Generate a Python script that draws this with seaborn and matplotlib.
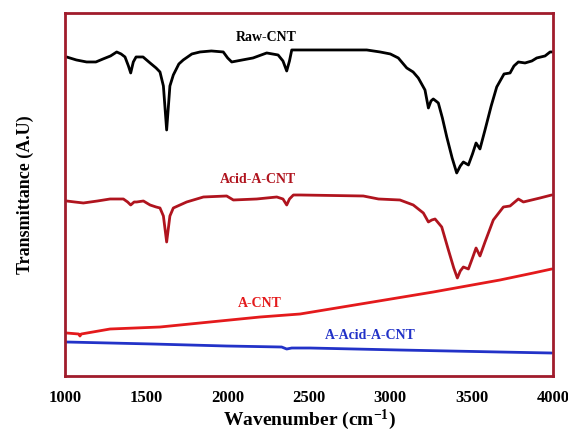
import numpy as np
import pandas as pd
import matplotlib.pyplot as plt
import seaborn as sns

# ==========================================================
# Data (wavenumber, relative transmittance)
# ==========================================================
raw_wn = [1010, 1070, 1133, 1190, 1234, 1280, 1318, 1345, 1369, 1390, 1404, 1420,
          1437, 1480, 1523, 1560, 1584, 1605, 1625, 1645, 1666, 1700, 1727, 1780,
          1830, 1900, 1973, 2000, 2025, 2090, 2156, 2240, 2310, 2340, 2363, 2380,
          2394, 2445, 2700, 2855, 2937, 3000, 3049, 3101, 3140, 3172, 3213, 3234,
          3250, 3264, 3280, 3295, 3320, 3347, 3380, 3408, 3430, 3449, 3480, 3505,
          3527, 3551, 3582, 3620, 3654, 3699, 3736, 3760, 3787, 3828, 3870, 3900,
          3951, 3982, 3994]
raw_t = [319, 316, 314, 314, 317, 320, 324, 322, 319, 310, 303, 314,
         319, 319, 313, 308, 304, 290, 246, 290, 301, 312, 316, 322,
         324, 325, 324, 318, 314, 316, 318, 323, 321, 315, 305, 315,
         326, 326, 326, 326, 324, 322, 318, 308, 304, 298, 286, 268,
         275, 277, 275, 273, 258, 239, 218, 203, 210, 214, 211, 222,
         233, 227, 246, 270, 289, 302, 303, 310, 314, 313, 315, 318,
         320, 324, 324]

acid_wn = [1010, 1060, 1113, 1200, 1277, 1359, 1385, 1404, 1425, 1441, 1482, 1523,
           1560, 1584, 1605, 1625, 1645, 1666, 1748, 1851, 1994, 2035, 2179, 2302,
           2340, 2363, 2380, 2404, 2445, 2834, 2927, 3059, 3141, 3203, 3234, 3255,
           3275, 3316, 3357, 3390, 3412, 3430, 3449, 3480, 3505, 3527, 3551, 3582,
           3633, 3695, 3736, 3787, 3818, 3920, 3992]
acid_t = [175, 174, 173, 175, 177, 177, 174, 171, 174, 174, 175, 171,
          169, 168, 160, 134, 160, 168, 174, 179, 180, 176, 177, 179,
          177, 171, 177, 181, 181, 180, 177, 176, 171, 163, 154, 156,
          157, 149, 126, 108, 98, 105, 109, 107, 118, 128, 120, 134,
          156, 169, 170, 177, 174, 178, 181]

acnt_wn = [1010, 1084, 1092, 1100, 1277, 1584, 1891, 2199, 2445, 2855,
           3264, 3674, 3879, 3992]
acnt_t = [43, 42, 40, 42, 47, 49, 54, 59, 62, 73, 84, 96, 103, 107]

aacid_wn = [1010, 1541, 1994, 2332, 2363, 2394, 2506, 3059, 3674, 3992]
aacid_t = [34, 32, 30, 29, 27, 28, 28, 26, 24, 23]

labels = ["Raw-CNT", "Acid-A-CNT", "A-CNT", "A-Acid-A-CNT"]
colors = ["black", "#b0141e", "#e41a1c", "#2232c8"]
label_x = [2240, 2187, 2196, 2875]
label_y = [338, 196, 73, 41]

frames = []
for name, wn, t in zip(labels, [raw_wn, acid_wn, acnt_wn, aacid_wn],
                       [raw_t, acid_t, acnt_t, aacid_t]):
    frames.append(pd.DataFrame({"wavenumber": wn, "T": t, "sample": name}))
spectra = pd.concat(frames, ignore_index=True)

# ==========================================================
# Plot
# ==========================================================
sns.set_style("white")
plt.rcParams["font.family"] = ["Liberation Serif", "DejaVu Serif"]
plt.rcParams["font.weight"] = "bold"
plt.rcParams["mathtext.fontset"] = "custom"
plt.rcParams["mathtext.rm"] = "Liberation Serif:bold"
plt.rcParams["mathtext.default"] = "rm"
plt.rcParams["text.color"] = "black"
plt.rcParams["axes.labelcolor"] = "black"
plt.rcParams["xtick.labelcolor"] = "black"

fig = plt.figure(figsize=(5.68, 4.32), dpi=100)
ax = fig.add_axes([0.1144, 0.1296, 0.8592, 0.8404])

sns.lineplot(data=spectra, x="wavenumber", y="T", hue="sample",
             palette=dict(zip(labels, colors)), hue_order=labels,
             sort=False, estimator=None, linewidth=2, legend=False, ax=ax)

for name, col, lx, ly in zip(labels, colors, label_x, label_y):
    ax.text(lx, ly, name, color=col, fontsize=10, fontweight="bold",
            ha="center", va="center")

ax.set_xlim(1000, 4000)
ax.set_ylim(0, 363)
ax.set_xticks([1000, 1500, 2000, 2500, 3000, 3500, 4000])
ax.set_yticks([])
ax.tick_params(axis="x", direction="out", length=3, width=1, color="#a01c2c",
               labelsize=12, pad=7)
for lbl in ax.get_xticklabels():
    lbl.set_fontweight("bold")
for s in ax.spines.values():
    s.set_color("#a01c2c")
    s.set_linewidth(2)

ax.set_xlabel("Wavenumber (cm$^{-1}$)", fontsize=14, fontweight="bold", labelpad=1)
ax.set_ylabel("Transmittance (A.U)", fontsize=13, fontweight="bold", labelpad=22)

plt.savefig("out.png", dpi=100)
